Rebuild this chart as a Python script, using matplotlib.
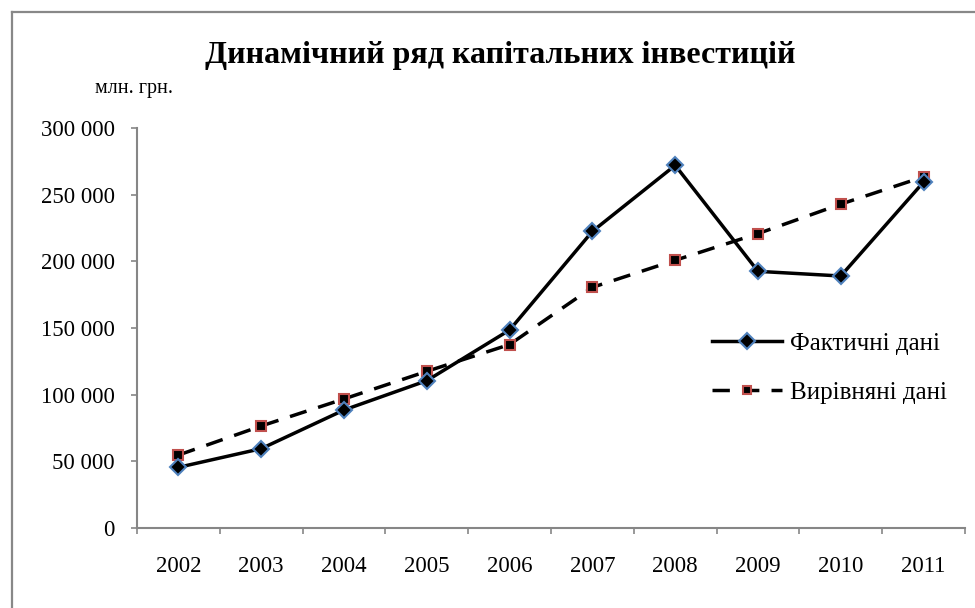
import matplotlib
matplotlib.use("Agg")
import matplotlib.pyplot as plt
from matplotlib.lines import Line2D
from matplotlib.ticker import FuncFormatter, FixedLocator

plt.rcParams['font.family'] = ['Liberation Serif', 'DejaVu Serif']

years = ['2002', '2003', '2004', '2005', '2006', '2007', '2008', '2009', '2010', '2011']
actual = [45500, 59500, 88500, 110500, 148500, 222500, 272000, 192500, 189000, 259500]
fitted = [54700, 76500, 96800, 117500, 137600, 180500, 200800, 220800, 242900, 263400]
yticks = [0, 50000, 100000, 150000, 200000, 250000, 300000]

title = 'Динамічний ряд капітальних інвестицій'
unit = 'млн. грн.'
label_actual = 'Фактичні дані'
label_fitted = 'Вирівняні дані'

W, H = 975, 608
fig = plt.figure(figsize=(W / 100, H / 100), dpi=100)
fig.patch.set_facecolor('white')

# outer chart border (top and left edges visible)
bx, by = 11.5 / W, 1 - 12 / H
fig.add_artist(Line2D([bx, 1.0], [by, by], transform=fig.transFigure,
                      color='#888888', linewidth=1.6))
fig.add_artist(Line2D([bx, bx], [0.0, by], transform=fig.transFigure,
                      color='#888888', linewidth=1.6))

ax = fig.add_axes([137 / W, 1 - 528 / H, (965 - 137) / W, (528 - 128) / H])
x = list(range(len(years)))

ax.plot(x, actual, color='black', linewidth=2.5, marker='D', markersize=8.5,
        markerfacecolor='black', markeredgecolor='#4F81BD', markeredgewidth=1.5,
        label=label_actual, zorder=3)
ax.plot(x, fitted, color='black', linewidth=2.5, linestyle=(0, (5, 3.5)), marker='s',
        markersize=6.5, markerfacecolor='black', markeredgecolor='#C0504D',
        markeredgewidth=1.5, label=label_fitted, zorder=2)

ax.set_xlim(-0.5, len(years) - 0.5)
ax.set_ylim(0, 300000)
ax.set_yticks(yticks)
ax.yaxis.set_major_formatter(FuncFormatter(lambda v, p: f'{int(v):,}'.replace(',', ' ')))
ax.set_xticks(x)
ax.set_xticklabels(years)
ax.xaxis.set_minor_locator(FixedLocator([i - 0.5 for i in range(len(years) + 1)]))

for s in ['top', 'right']:
    ax.spines[s].set_visible(False)
for s in ['left', 'bottom']:
    ax.spines[s].set_color('#868686')
    ax.spines[s].set_linewidth(1.5)

ax.tick_params(axis='y', which='major', direction='out', length=4, width=1.2,
               color='#868686', labelsize=16.5, pad=12)
ax.tick_params(axis='x', which='major', length=0, labelsize=16.5, pad=20.5)
ax.tick_params(axis='x', which='minor', direction='out', length=4, width=1.2, color='#868686')

fig.text(500 / W, 1 - 55 / H, title, ha='center', va='center', fontsize=23, fontweight='bold')
fig.text(134 / W, 1 - 88 / H, unit, ha='center', va='center', fontsize=14.5)

leg = ax.legend(loc='center left', bbox_to_anchor=(712 / W, 1 - 368 / H),
                bbox_transform=fig.transFigure, frameon=False, fontsize=18,
                handlelength=2.8, handletextpad=0.3, labelspacing=1.05,
                borderpad=0, borderaxespad=0, markerscale=0.95)

fig.savefig('out.png', dpi=100, facecolor='white')
